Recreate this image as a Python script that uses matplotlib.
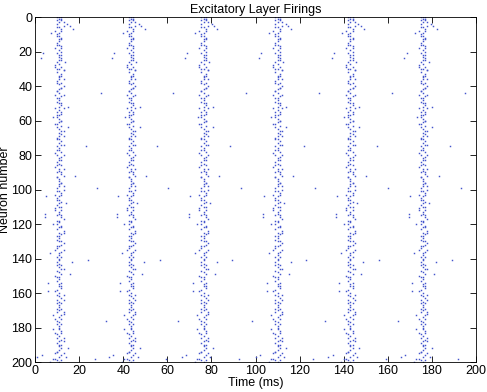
import matplotlib
matplotlib.use("Agg")
import matplotlib.pyplot as plt

# Network bursts roughly every 33 ms; each burst repeats nearly the same firing pattern
BURST_TIMES = [11.0, 43.5, 76.5, 110.0, 143.0, 176.0]

# main spike of each neuron (1..200), offset in ms from the burst time
MAIN_OFFSET = [
    0, 1, 0, -1, 2, 0, 1, -2, 0, -1, 0, 1, 0, 0, -1, 0, 1, -2, 0, 1,
    -1, 0, 0, 1, 0, -1, 0, -2, 1, 0, 2, -1, 1, 0, 0, 0, -1, 1, 0, 2,
    1, 0, -1, 0, -2, 1, 0, 0, -1, 0, 1, 0, -2, 0, -1, 1, 0, -1, 0, 1,
    0, -2, 1, -1, 0, 2, 0, 1, 0, -1, 0, 1, 0, 2, -1, 0, 0, 1, -2, -1,
    1, 0, 0, -1, 0, 1, -2, 0, 0, -1, 1, 2, -1, 0, 0, 1, 0, 0, -1, 2,
    0, 1, -2, 0, -1, 0, 1, 0, -1, 0, -2, 1, 0, 0, -1, 1, 2, 0, 0, -1,
    1, 0, -1, 2, 0, 1, 0, 0, -1, 0, 2, 1, 0, -1, -2, 1, 0, 0, -1, 0,
    0, -1, 0, 1, 0, 2, -1, 0, 1, -2, 0, 0, -1, 1, 0, 0, 1, -1, -2, 0,
    -1, 0, 1, 2, 0, -1, 0, 0, 1, 0, -1, 2, 1, 0, -2, -1, 0, 1, 0, 0,
    0, 1, -2, -1, 0, 2, 1, 0, -1, 0, 0, 1, 0, -1, 2, 1, 0, -2, -1, 0,
]

# additional spikes inside / close to each burst: (neuron, offset ms)
NEAR_SPIKES = [
    (0, -1), (0, 0), (0, 1), (1, 1), (2, -1), (3, 2), (4, 3.7), (5, 4.7),
    (6, -1), (7, 6.2), (8, 1), (9, -3.8), (11, -1), (13, 1), (16, -1),
    (18, 1), (22, 1), (25, 1), (26, 2.5), (29, -2), (30, -1), (31, 2),
    (34, 1), (36, 2), (38, -1), (41, 1), (43, -1), (45, 2), (47, -1),
    (50, 1), (52, 4), (53, 2), (55, 1), (57, -1), (58, -2.8), (60, 1),
    (62, -1), (64, 4), (66, 1), (69, 2), (71, -1), (74, 1), (77, -1),
    (80, 2), (83, 1), (86, -1), (88, 2), (90, 1), (93, -1), (96, 1),
    (98, 2), (101, -1), (103, 1), (106, -1), (108, 2.9), (110, 1),
    (112, -2), (115, 1), (118, -1), (120, -3), (122, 1), (125, 2),
    (127, -1), (130, 1), (133, -1), (135, 2), (137, -4), (139, 1),
    (142, 5.9), (144, -1), (146, 1), (149, 5), (151, -1), (154, -5),
    (156, 1), (159, -5), (161, 2), (164, -1), (166, 1), (169, -1),
    (171, 2), (173, -3), (175, 1), (178, -1), (181, -3), (183, 1),
    (186, -1), (188, 2), (190, 1), (192, 4), (194, -1), (195, -2),
    (197, 3), (198, -3), (199, 1), (200, -4),
]

# sparse spikes far from the bursts: (neuron, offset ms)
FAR_SPIKES = [
    (21, -7.5), (24, -8.5), (44, 19), (75, 12), (92, 7), (99, 17),
    (104, -6), (114, -6.5), (116, -6.5), (141, 13), (176, -11.5),
    (196, -8), (197, -10), (198, 16),
]

FONT = "Liberation Sans"

fig = plt.figure(figsize=(4.87, 3.92), dpi=100)
ax = fig.add_axes([0.0719, 0.0765, 0.9055, 0.8801])

times, neurons = [], []
for t0 in BURST_TIMES:
    for i, off in enumerate(MAIN_OFFSET):
        times.append(t0 + off)
        neurons.append(i + 1)
    for n, off in NEAR_SPIKES + FAR_SPIKES:
        t = t0 + off
        if 0 <= t <= 200:
            times.append(t)
            neurons.append(n)

ax.plot(times, neurons, "s", color="#4455cc", markersize=1.05,
        markeredgewidth=0, linestyle="none")

ax.set_xlim(0, 200)
ax.set_ylim(200, 0)
ax.set_xticks(range(0, 201, 20))
ax.set_yticks(range(0, 201, 20))
ax.tick_params(direction="in", length=4, width=0.6, top=True, right=True,
               labelsize=9, pad=2)
for spine in ax.spines.values():
    spine.set_linewidth(0.6)

ax.set_title("Excitatory Layer Firings", fontsize=9, pad=3, family=FONT)
ax.set_xlabel("Time (ms)", fontsize=9, labelpad=0, family=FONT)
ax.set_ylabel("Neuron number", fontsize=9, family=FONT)
ax.yaxis.set_label_coords(-0.055, 0.5)

for lbl in ax.get_xticklabels() + ax.get_yticklabels():
    lbl.set_family(FONT)

fig.savefig("out.png", dpi=100)
